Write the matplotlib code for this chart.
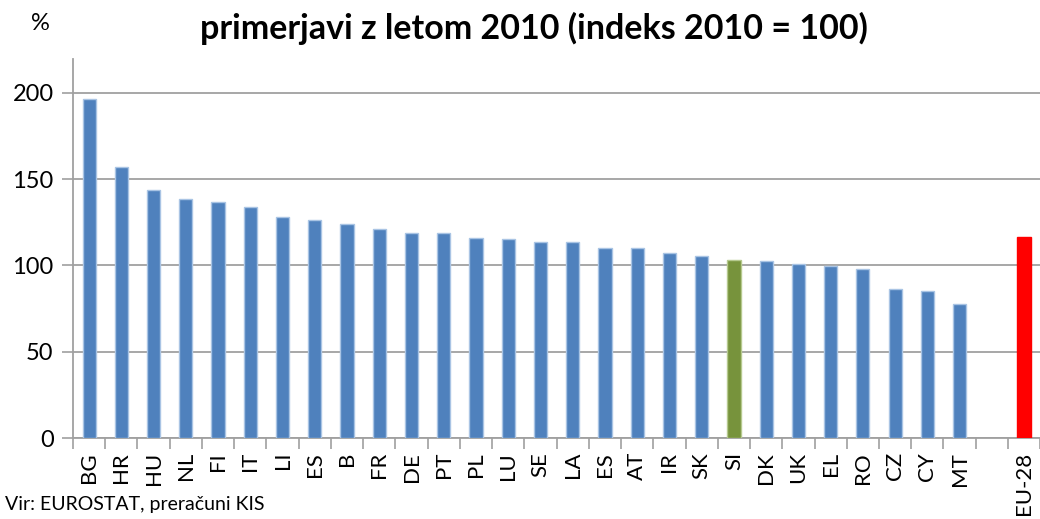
import numpy as np
import matplotlib
matplotlib.use("Agg")
import matplotlib.pyplot as plt

plt.rcParams['font.family'] = ['Lato', 'DejaVu Sans']

# data
countries = ["BG", "HR", "HU", "NL", "FI", "IT", "LI", "ES", "B", "FR",
             "DE", "PT", "PL", "LU", "SE", "LA", "ES", "AT", "IR", "SK",
             "SI", "DK", "UK", "EL", "RO", "CZ", "CY", "MT", "", "EU-28"]
values = [196.5, 157, 143.6, 138.3, 136.8, 133.9, 127.9, 126.3, 124, 121.1,
          119, 119, 116.1, 115.3, 113.8, 113.8, 110.1, 110.1, 107.2, 105.6,
          103.2, 102.3, 100.8, 99.8, 97.9, 86.6, 85.1, 77.8, np.nan, 116.7]
yticks = [0, 50, 100, 150, 200]

blue = "#4F81BD"
colors = []
for c in countries:
    if c == "SI":
        colors.append("#77933C")
    elif c == "EU-28":
        colors.append("#FF0000")
    else:
        colors.append(blue)
edges = []
for col in colors:
    if col == blue:
        edges.append("#A9C4E4")
    elif col == "#77933C":
        edges.append("#B5C98E")
    else:
        edges.append("#FF0000")

fig = plt.figure(figsize=(10.4, 5.19), dpi=100)
ax = fig.add_axes([0.0702, 0.156, 0.93, 0.730])

x = np.arange(len(countries))
ax.bar(x, values, width=0.41, color=colors, edgecolor=edges, linewidth=1.0, zorder=3)

ax.set_xlim(-0.5, len(countries) - 0.5)
ax.set_ylim(0, 219.5)
ax.set_yticks(yticks)
ax.set_yticklabels([str(v) for v in yticks], fontsize=17)
ax.yaxis.grid(True, color="#A0A0A0", linewidth=1.3, zorder=0)
ax.set_axisbelow(True)

ax.set_xticks(x)
ax.set_xticklabels(countries, rotation=90, fontsize=16)
ax.tick_params(axis='x', length=0, pad=10)
ax.set_xticks(np.arange(-0.5, len(countries), 1), minor=True)
ax.tick_params(axis='x', which='minor', length=8, color="#A0A0A0", width=1.2)
ax.tick_params(axis='y', length=8, color="#A0A0A0", width=1.2, pad=6)

for s in ["top", "right"]:
    ax.spines[s].set_visible(False)
for s in ["left", "bottom"]:
    ax.spines[s].set_color("#A0A0A0")
    ax.spines[s].set_linewidth(1.3)

fig.text(0.513, 0.945, "primerjavi z letom 2010 (indeks 2010 = 100)",
         ha="center", va="center", fontsize=24.5, fontweight="bold")
fig.text(0.039, 0.955, "%", ha="center", va="center", fontsize=17)
fig.text(0.005, 0.027, "Vir: EUROSTAT, preračuni KIS", ha="left", va="center", fontsize=14)

fig.savefig("out.png", dpi=100)
